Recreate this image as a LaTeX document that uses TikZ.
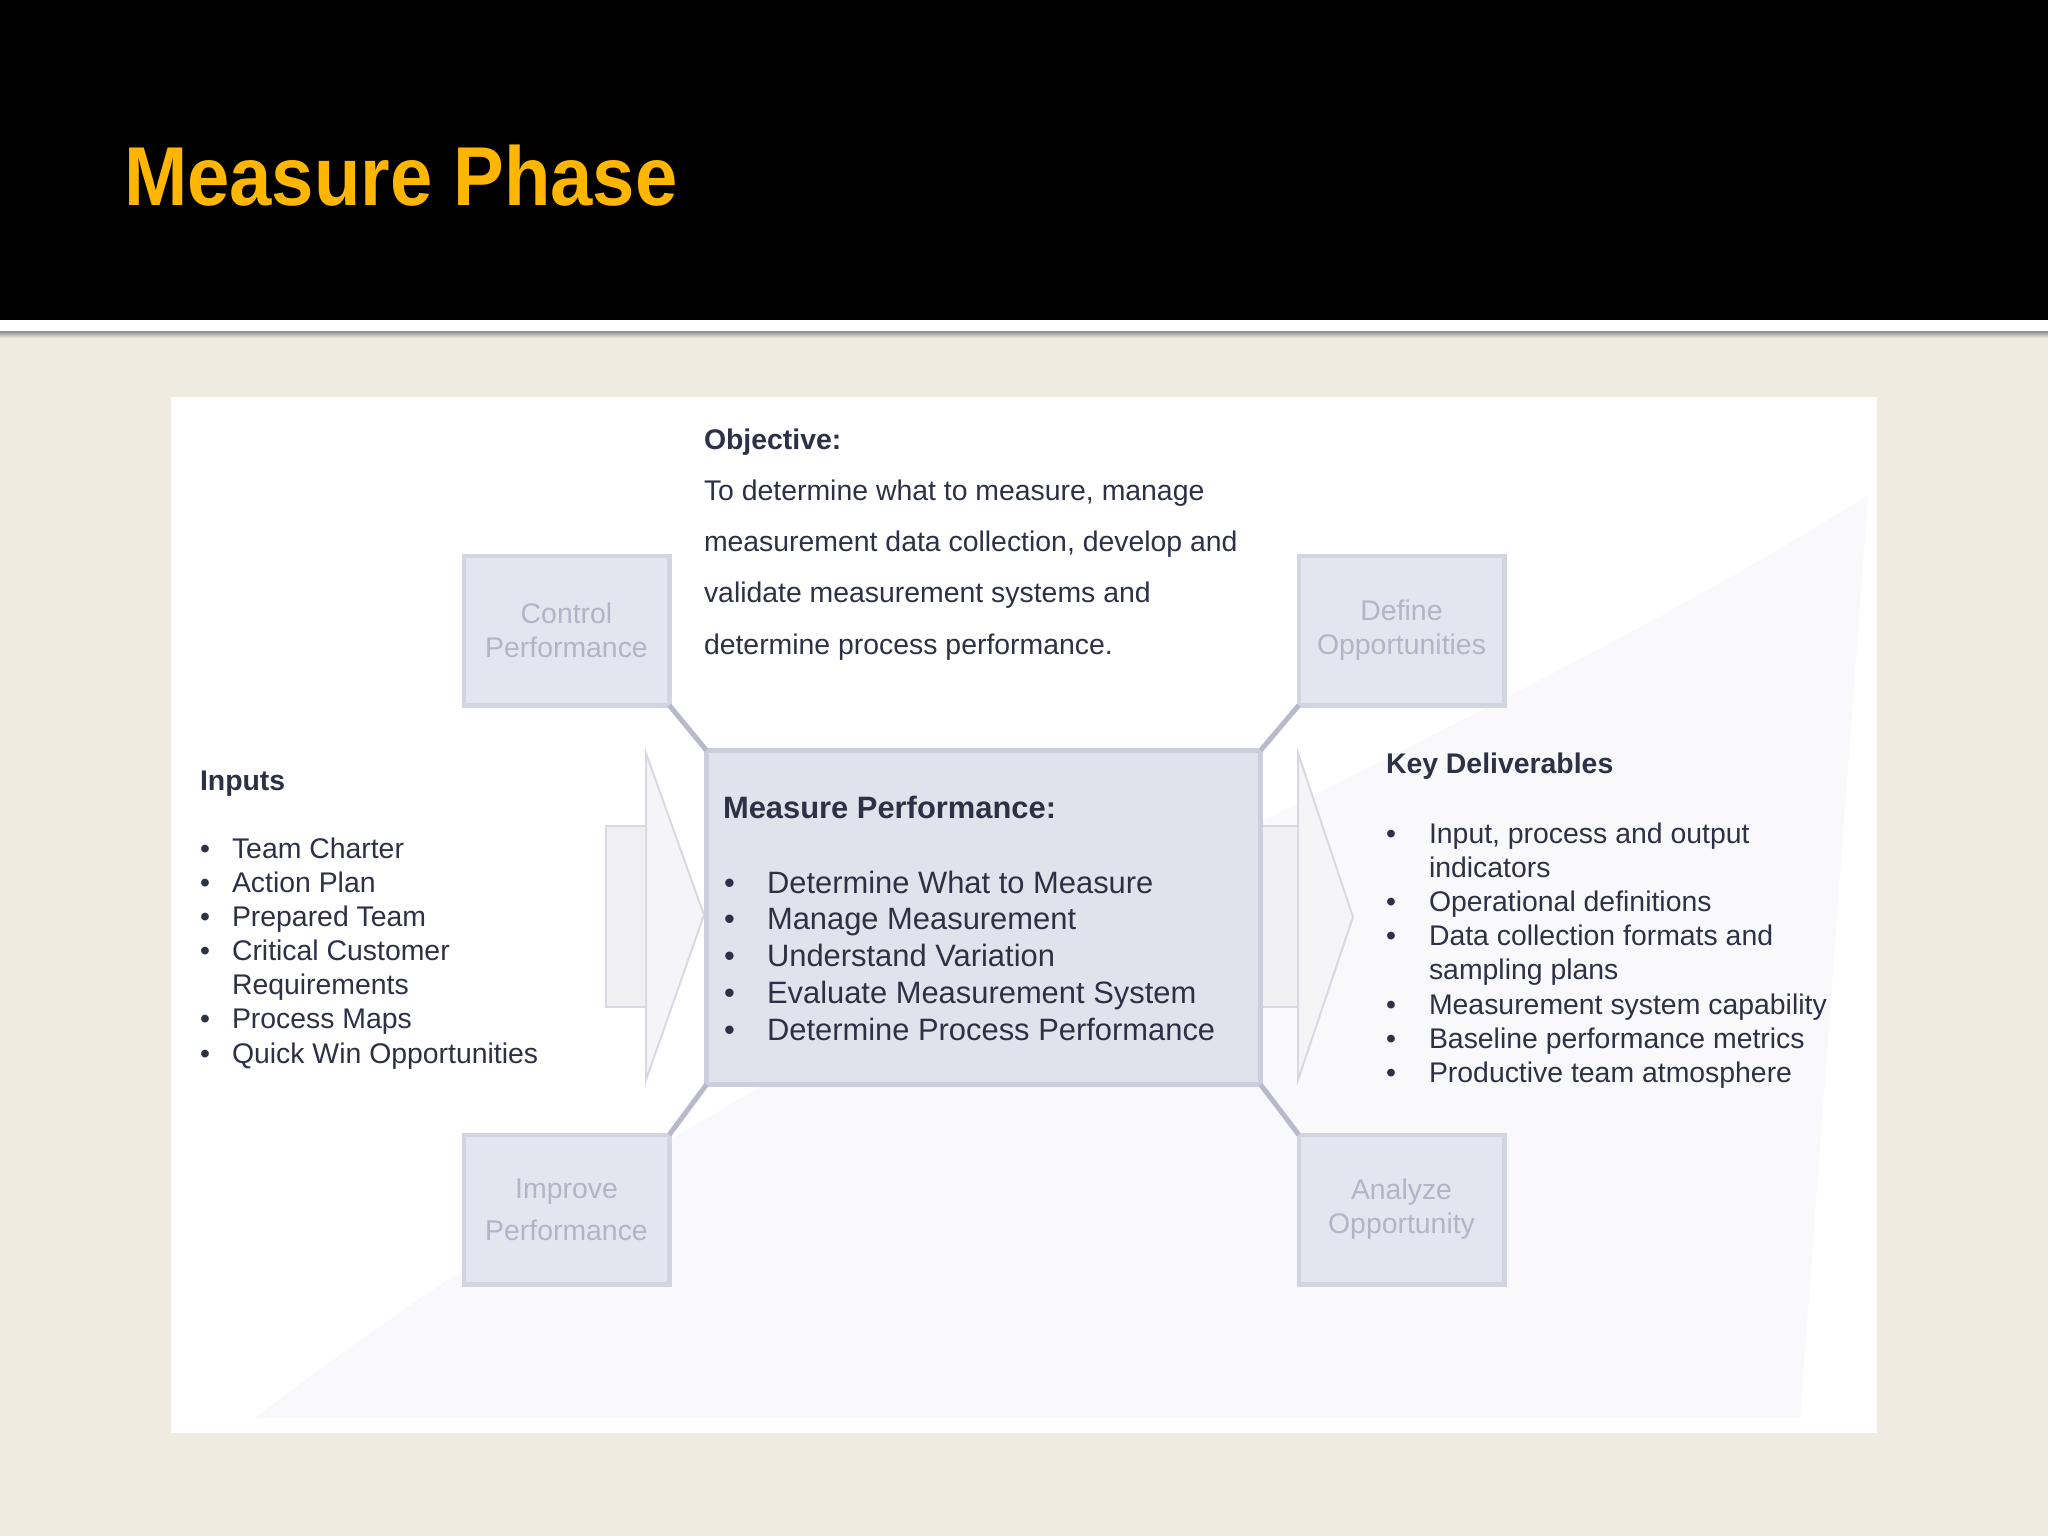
\documentclass[tikz,border=0pt]{standalone}
\usepackage{fontspec}
\setmainfont{Liberation Sans}
\definecolor{paper}{RGB}{239,235,225}
\definecolor{gold}{RGB}{255,182,0}
\definecolor{ink}{RGB}{45,49,70}
\definecolor{boxfill}{RGB}{228,230,239}
\definecolor{boxedge}{RGB}{210,212,224}
\definecolor{corefill}{RGB}{225,227,236}
\definecolor{coreedge}{RGB}{204,206,220}
\definecolor{linkgray}{RGB}{184,186,204}
\definecolor{phasetxt}{RGB}{178,180,200}
\definecolor{arrowfill}{RGB}{240,240,243}
\definecolor{arrowtip}{RGB}{245,245,248}
\definecolor{arrowedge}{RGB}{216,217,226}
\definecolor{swoosh}{RGB}{249,249,251}

\begin{document}
\begin{tikzpicture}[x=0.5pt,y=-0.5pt,
   every node/.style={inner sep=0pt,outer sep=0pt},
   phase/.style={draw=boxedge,line width=2.25pt,fill=boxfill,minimum width=102.75pt,minimum height=74.75pt,
     text=phasetxt,font=\fontsize{14.2}{17}\selectfont,align=center},
   core/.style={draw=coreedge,line width=2.5pt,fill=corefill,minimum width=277pt,minimum height=167pt},
   txt/.style={anchor=base west,text=ink,font=\fontsize{14.2}{17}\selectfont},
   hd/.style={txt,font=\fontsize{14.2}{17}\selectfont\bfseries},
   big/.style={anchor=base west,text=ink,font=\fontsize{15.45}{18}\selectfont},
   link/.style={draw=linkgray,line width=2.5pt},
   arr/.style={draw=arrowedge,line width=1pt}]
  \useasboundingbox (0,0) rectangle (2048,1536);
  % slide background
  \fill[paper] (0,0) rectangle (2048,1536);
  \fill[black] (0,0) rectangle (2048,320);
  \fill[white] (0,320) rectangle (2048,331);
  \shade[top color=black!45,bottom color=paper] (0,331) rectangle (2048,338);
  \node[anchor=base west,text=gold,font=\fontsize{38}{40}\selectfont\bfseries] (title) at (124,205)
    {\scalebox{1}[1.1]{Measure Phase}};
  % panel
  \fill[white] (171,397) rectangle (1877,1433);
  \fill[swoosh] (1868,495) .. controls (1450,760) and (800,1000) .. (255,1418) -- (1800,1418) -- cycle;
  % arrows in and out
  \draw[arr,fill=arrowfill] (606,826) rectangle (646,1007);
  \draw[arr,fill=arrowtip] (646,753) -- (704,915) -- (646,1080) -- cycle;
  \draw[arr,fill=arrowfill] (1262,826) rectangle (1298,1007);
  \draw[arr,fill=arrowtip] (1298,753) -- (1353,917) -- (1298,1080) -- cycle;
  % boxes
  \node[core] (mp) at (983.5,917.5) {};
  \node[phase] (ctrl) at (566.5,630.5) {Control\\Performance};
  \node[phase] (def) at (1401.5,630.5) {Define\\Opportunities\vphantom{P}};
  \node[phase] (imp) at (566.5,1209.5) {Improve\\[4pt]Performance};
  \node[phase] (ana) at (1401.5,1209.5) {Analyze\\Opportunity};
  \draw[link] (ctrl.south east) -- (mp.north west);
  \draw[link] (def.south west) -- (mp.north east);
  \draw[link] (imp.north east) -- (mp.south west);
  \draw[link] (ana.north west) -- (mp.south east);
  % objective
  \node[hd] (obj) at (704,449) {Objective:};
  \foreach \y/\t [count=\i] in {500/{To determine what to measure, manage},
      551.4/{measurement data collection, develop and},
      602.8/validate measurement systems and,654.2/determine process performance.}
    \node[txt] (obj\i) at (704,\y) {\t};
  % inputs
  \node[hd] (inputs) at (200,790) {Inputs};
  \foreach \y/\t [count=\i] in {858/Team Charter,892.2/Action Plan,926.3/Prepared Team,960.5/Critical Customer,
      994.7/Requirements,1028.8/Process Maps,1063/Quick Win Opportunities}
    \node[txt] (in\i) at (232,\y) {\t};
  \foreach \y [count=\i] in {858,892.2,926.3,960.5,1028.8,1063}
    \node[txt] (inb\i) at (200,\y) {\textbullet};
  % measure performance
  \node[big,font=\fontsize{15.45}{18}\selectfont\bfseries] (mphd) at (723,818) {Measure Performance:};
  \foreach \y/\t [count=\i] in {893/Determine What to Measure,929.9/Manage Measurement,966.8/Understand Variation,
      1003.7/Evaluate Measurement System,1040.6/Determine Process Performance}
    {\node[big] (mp\i) at (767,\y) {\t};
     \node[big] (mpb\i) at (724,\y) {\textbullet};}
  % key deliverables
  \node[hd] (kd) at (1386,773) {Key Deliverables};
  \foreach \y/\t [count=\i] in {843/{Input, process and output},877.2/indicators,911.4/Operational definitions,
      945.6/Data collection formats and,979.8/sampling plans,1014/Measurement system capability,
      1048.2/Baseline performance metrics,1082.4/Productive team atmosphere}
    \node[txt] (kd\i) at (1429,\y) {\t};
  \foreach \y [count=\i] in {843,911.4,945.6,1014,1048.2,1082.4}
    \node[txt] (kdb\i) at (1386,\y) {\textbullet};
\end{tikzpicture}
\end{document}
